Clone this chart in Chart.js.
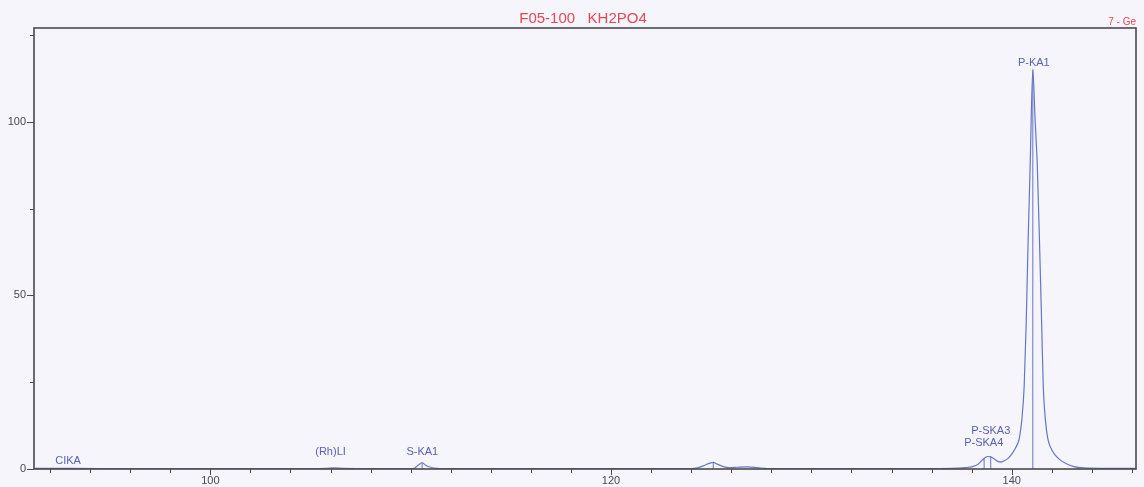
<!DOCTYPE html>
<html><head><meta charset="utf-8">
<script src="https://cdn.jsdelivr.net/npm/chart.js@4/dist/chart.umd.min.js"></script>
<style>html,body{margin:0;padding:0;background:#f5f5fb;}#wrap{width:1144px;height:487px;}</style>
</head><body><div id="wrap"><canvas id="c" width="1144" height="487"></canvas></div>
<script>
// scan: 2-theta position vs intensity
const scanX = [91.2, 93, 96, 100, 104, 105.8, 106.2, 106.6, 108, 110.0, 110.2, 110.4, 110.57, 110.75, 111.0, 111.3, 112, 116, 120, 124, 124.3, 124.6, 124.9, 125.1, 125.3, 125.6, 125.9, 126.3, 126.8, 127.3, 127.8, 130, 134, 137, 137.7, 138.0, 138.3, 138.5, 138.65, 138.8, 138.95, 139.1, 139.3, 139.45, 139.6, 139.8, 140.0, 140.2, 140.37, 140.5, 140.62, 140.72, 140.80, 140.92, 141.05, 141.16, 141.27, 141.40, 141.5, 141.57, 141.68, 141.80, 142.0, 142.35, 142.7, 143.1, 143.6, 144.5, 146.2];
const scanY = [0.2, 0.2, 0.1, 0.1, 0.1, 0.2, 0.3, 0.2, 0.1, 0.1, 0.3, 1.2, 1.8, 1.1, 0.5, 0.2, 0.1, 0.1, 0.1, 0.1, 0.3, 0.9, 1.6, 1.9, 1.4, 0.7, 0.4, 0.5, 0.6, 0.4, 0.15, 0.1, 0.1, 0.2, 0.4, 0.6, 1.3, 2.4, 3.2, 3.6, 3.5, 3.0, 2.2, 2.0, 2.3, 3.0, 4.3, 6.2, 8.7, 14, 24, 42, 62, 88, 115, 101, 88, 62, 40, 24, 14, 8.7, 5.5, 2.9, 1.6, 0.7, 0.3, 0.2, 0.2];
// peak marker lines
const markerX = [110.57, 125.1, 138.62, 138.95, 141.05];
const markerTop = [1.8, 1.9, 3.2, 3.5, 115];
// peak labels
const labelText = ['CIKA', '(Rh)LI', 'S-KA1', 'P-SKA3', 'P-SKA4', 'P-KA1'];
const labelX = [92.9, 106.0, 110.58, 138.95, 138.6, 141.1];
const labelY = [2.3, 4.9, 4.9, 11, 7.5, 117];
// axes
const xMajor = [100, 120, 140];
const xMinorStep = 2;
const yMajor = [0, 50, 100];
const yMinorStep = 25;
const titleText = 'F05-100   KH2PO4';
const cornerText = '7 - Ge';

const LINE = '#6676c6';
const LABEL = '#5862b0';
const AXIS = '#4a4a4a';
const FONT = '"Liberation Sans", Arial, sans-serif';

const datasets = [{
  data: scanX.map((x, i) => ({x, y: scanY[i]})),
  borderColor: LINE, borderWidth: 1.2, pointRadius: 0, cubicInterpolationMode: 'monotone', fill: false
}];
markerX.forEach((x, i) => datasets.push({
  data: [{x, y: 0}, {x, y: markerTop[i]}],
  borderColor: LINE, borderWidth: 1, pointRadius: 0, fill: false
}));

const decor = {
  id: 'decor',
  beforeDraw(chart) {
    const c = chart.ctx;
    c.save(); c.fillStyle = '#f5f5fb'; c.fillRect(0, 0, chart.width, chart.height); c.restore();
  },
  afterDraw(chart) {
    const c = chart.ctx, a = chart.chartArea, xs = chart.scales.x, ys = chart.scales.y;
    c.save();
    c.strokeStyle = AXIS; c.lineWidth = 1.6;
    c.strokeRect(a.left, a.top, a.right - a.left, a.bottom - a.top);
    c.lineWidth = 1;
    xs.ticks.forEach(t => {
      const px = Math.round(xs.getPixelForValue(t.value)) + 0.5;
      const len = xMajor.includes(t.value) ? 6 : 4;
      c.beginPath(); c.moveTo(px, a.bottom); c.lineTo(px, a.bottom + len); c.stroke();
    });
    ys.ticks.forEach(t => {
      const py = Math.round(ys.getPixelForValue(t.value)) + 0.5;
      const len = yMajor.includes(t.value) ? 7 : 4;
      c.beginPath(); c.moveTo(a.left - len, py); c.lineTo(a.left, py); c.stroke();
    });
    c.fillStyle = LABEL; c.font = '11px ' + FONT;
    c.textAlign = 'center'; c.textBaseline = 'middle';
    labelText.forEach((t, i) => c.fillText(t, xs.getPixelForValue(labelX[i]), ys.getPixelForValue(labelY[i])));
    c.fillStyle = '#e04a55'; c.font = '15px ' + FONT;
    c.fillText(titleText, 583, 19);
    c.font = '10px ' + FONT; c.textAlign = 'right';
    c.fillText(cornerText, a.right, 22);
    c.restore();
  }
};

new Chart(document.getElementById('c'), {
  type: 'line',
  data: {datasets},
  options: {
    responsive: false, animation: false,
    layout: {padding: {left: 0, right: 8, top: 28, bottom: 0}},
    plugins: {legend: {display: false}, tooltip: {enabled: false}, title: {display: false}},
    scales: {
      x: {
        type: 'linear', min: 91.2, max: 146.2,
        afterBuildTicks: s => { const t = []; for (let v = 92; v <= 146; v += xMinorStep) t.push({value: v}); s.ticks = t; },
        afterFit: s => { s.height = 18; },
        grid: {display: true, drawOnChartArea: false, drawTicks: true, tickLength: 5, color: 'rgba(0,0,0,0)'},
        border: {display: false},
        ticks: {autoSkip: false, maxRotation: 0, padding: 0, color: AXIS, font: {size: 11, family: FONT},
          callback: v => xMajor.includes(v) ? String(v) : ''}
      },
      y: {
        type: 'linear', min: 0, max: 127,
        afterBuildTicks: s => { const t = []; for (let v = 0; v <= 125; v += yMinorStep) t.push({value: v}); s.ticks = t; },
        afterFit: s => { s.width = 34; },
        grid: {display: true, drawOnChartArea: false, drawTicks: true, tickLength: 7, color: 'rgba(0,0,0,0)'},
        border: {display: false},
        ticks: {autoSkip: false, padding: 1, color: AXIS, font: {size: 11, family: FONT},
          callback: v => yMajor.includes(v) ? String(v) : ''}
      }
    }
  },
  plugins: [decor]
});
</script></body></html>
